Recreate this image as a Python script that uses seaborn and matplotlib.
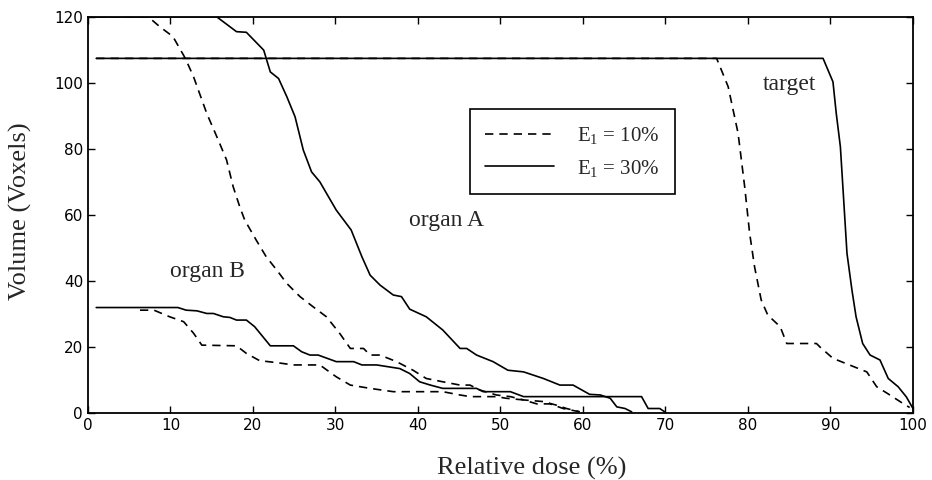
import matplotlib
matplotlib.use("Agg")
import matplotlib.pyplot as plt
import numpy as np
import pandas as pd
import seaborn as sns
from matplotlib.lines import Line2D

# ---- data (dose %, volume in voxels) ----
# target
dose_target_10 = [1, 76.2, 77.6, 78.8, 79.6, 80.2, 80.8, 81.6, 82.4, 83.9, 84.7, 88.3, 88.7, 90.3, 94.4, 95.6, 97.2, 98.8, 99.6]
vol_target_10 = [107.4, 107.4, 98.8, 84.7, 68.5, 54.4, 44.2, 34.2, 29.6, 26.1, 21.0, 21.0, 20.0, 16.5, 12.4, 7.9, 5.4, 2.8, 1.6]
dose_target_30 = [1, 89.1, 90.3, 90.7, 91.2, 91.6, 92.0, 92.6, 93.1, 93.9, 94.8, 96.0, 97.0, 98.2, 99.2, 100]
vol_target_30 = [107.4, 107.4, 100.3, 90.7, 80.6, 64.5, 48.3, 37.2, 29.1, 21.0, 17.5, 16.0, 10.4, 7.9, 4.8, 1.3]

# organ A
dose_a_10 = [1, 7.3, 8.7, 10.3, 11.8, 12.8, 14.4, 15.8, 16.8, 17.6, 18.4, 19.0, 20.4, 21.6, 22.9, 24.1, 25.7,
             27.3, 28.9, 30.5, 31.8, 33.4, 34.2, 35.4, 37.4, 39.4, 41.0, 43.0, 45.1, 46.3, 47.5, 49.5, 51.2,
             52.8, 55.2, 56.8, 58.0, 59.6]
vol_a_10 = [120, 120, 117, 114, 107.4, 101.8, 90.7, 82.6, 76.6, 68.5, 62.4, 58.4, 52.3, 47.3, 43.2, 39.2, 35.2,
            32.1, 29.1, 24.1, 19.5, 19.5, 17.5, 17.5, 15.5, 12.9, 10.4, 9.4, 8.4, 8.4, 6.9, 5.4, 4.9,
            3.9, 3.4, 2.3, 1.3, 0.3]
dose_a_30 = [1, 15.6, 18.0, 19.2, 21.3, 22.1, 23.1, 24.1, 25.1, 26.1, 27.1, 28.1, 30.1, 31.9, 33.2, 34.2, 35.4,
             37.0, 38.0, 39.0, 41.0, 43.0, 45.1, 45.9, 47.1, 49.1, 50.9, 52.8, 55.2, 57.2, 58.8, 60.8, 62.1,
             63.3, 64.1, 65.1, 65.9]
vol_a_30 = [120, 120, 115.5, 115.3, 109.9, 103.3, 101.3, 95.8, 89.7, 79.6, 73.0, 70.0, 61.4, 55.4, 47.3, 41.7, 38.7,
            35.7, 35.2, 31.4, 29.1, 25.1, 19.5, 19.5, 17.5, 15.5, 12.9, 12.4, 10.4, 8.4, 8.4, 5.6, 5.4,
            4.4, 1.8, 1.3, 0.3]

# organ B
dose_b_10 = [6.3, 8.0, 9.9, 11.6, 12.8, 13.8, 18.0, 19.2, 20.8, 22.9, 24.9, 28.1, 30.1, 31.8, 34.2, 37.0,
             43.0, 45.1, 46.3, 49.5, 50.7, 52.8, 54.4, 56.0, 57.6, 59.6]
vol_b_10 = [31.1, 31.1, 29.1, 27.6, 24.1, 20.5, 20.3, 18.0, 15.8, 15.2, 14.5, 14.5, 10.9, 8.4, 7.4, 6.4,
            6.4, 5.4, 4.9, 4.9, 4.4, 3.9, 2.7, 2.7, 1.3, 0.3]
dose_b_30 = [1, 10.9, 11.9, 13.2, 14.4, 15.2, 16.4, 17.2, 18.0, 19.2, 20.2, 22.1, 24.9, 25.9, 26.9, 27.9,
             30.1, 32.2, 33.2, 35.0, 37.8, 39.0, 40.2, 41.5, 43.0, 47.1, 47.9, 51.2, 52.8, 67.1, 67.9,
             69.3, 69.9]
vol_b_30 = [31.9, 31.9, 31.1, 30.9, 30.1, 30.1, 29.1, 28.9, 28.1, 28.1, 26.1, 20.3, 20.3, 18.5, 17.5, 17.5,
            15.5, 15.5, 14.5, 14.5, 13.4, 11.9, 9.4, 8.4, 7.4, 7.4, 6.4, 6.4, 4.9, 4.9, 1.3,
            1.3, 0.3]

organ_labels = ["organ A", "organ B", "target"]
organ_label_pos = [(43.4, 58.4), (14.5, 42.9), (85.0, 99.6)]
legend_labels = [r"E$_1$ = 10%", r"E$_1$ = 30%"]

curves = [
    ("target", "10", dose_target_10, vol_target_10),
    ("target", "30", dose_target_30, vol_target_30),
    ("A", "10", dose_a_10, vol_a_10),
    ("A", "30", dose_a_30, vol_a_30),
    ("B", "10", dose_b_10, vol_b_10),
    ("B", "30", dose_b_30, vol_b_30),
]
df = pd.concat(
    [pd.DataFrame({"dose": d, "volume": v, "organ": o, "E1": e}) for o, e, d, v in curves],
    ignore_index=True,
)
df["curve"] = df["organ"] + "_" + df["E1"]

# ---- style ----
sns.set_style("ticks")
plt.rcParams["font.family"] = ["DejaVu Sans"]
plt.rcParams["mathtext.fontset"] = "custom"
plt.rcParams["mathtext.rm"] = "Liberation Serif"
plt.rcParams["mathtext.it"] = "Liberation Serif"
plt.rcParams["xtick.direction"] = "in"
plt.rcParams["ytick.direction"] = "in"

fig = plt.figure(figsize=(9.32, 4.8), dpi=100)
ax = fig.add_axes([0.0944, 0.140, 0.8852, 0.825])

dash_pat = (5, 3.6)
dash_map = {"10": dash_pat, "30": ""}
sns.lineplot(data=df, x="dose", y="volume", units="curve", style="E1", dashes=dash_map,
             estimator=None, sort=False, color="black", linewidth=1.2, legend=False, ax=ax)

ax.set_xlim(0, 100)
ax.set_ylim(0, 120)
ax.set_xticks(np.arange(0, 101, 10))
ax.set_yticks(np.arange(0, 121, 20))
ax.tick_params(top=True, right=True, length=5, width=1, labelsize=11, colors="black")
for s in ax.spines.values():
    s.set_visible(True)
    s.set_linewidth(1.3)
    s.set_color("black")

serif = ["Liberation Serif", "DejaVu Serif"]
ax.set_xlabel("Relative dose (%)", family=serif, fontsize=19)
ax.set_ylabel("Volume (Voxels)", family=serif, fontsize=19)
ax.xaxis.set_label_coords(0.538, -0.112)
ax.yaxis.set_label_coords(-0.068, 0.51)

for txt, (x, y) in zip(organ_labels, organ_label_pos):
    ax.text(x, y, txt, family=serif, fontsize=17, ha="center", va="center")

handles = [Line2D([], [], color="black", lw=1.2, dashes=dash_pat),
           Line2D([], [], color="black", lw=1.2)]
leg = ax.legend(handles, legend_labels, loc="center", bbox_to_anchor=(0.587, 0.659),
                prop={"family": serif, "size": 15}, handlelength=3.3, handletextpad=1.1,
                labelspacing=0.55, borderpad=0.75, fancybox=False, framealpha=1, edgecolor="black")
leg.get_frame().set_linewidth(1.2)

fig.savefig("out.png", dpi=100)
